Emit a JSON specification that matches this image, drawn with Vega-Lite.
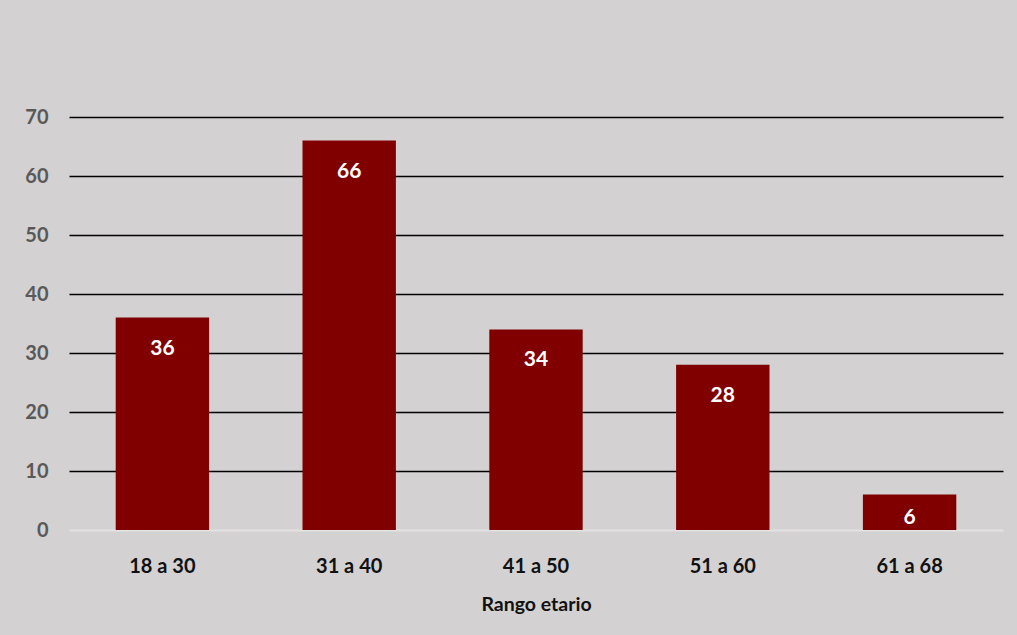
{
  "$schema": "https://vega.github.io/schema/vega-lite/v6.json",
  "width": 934,
  "height": 413,
  "autosize": {"type": "none"},
  "padding": {"left": 69, "top": 117, "right": 14, "bottom": 105},
  "background": "#d3d1d2",
  "data": {"values": [
    {"rango": "18 a 30", "n": 36},
    {"rango": "31 a 40", "n": 66},
    {"rango": "41 a 50", "n": 34},
    {"rango": "51 a 60", "n": 28},
    {"rango": "61 a 68", "n": 6}
  ]},
  "encoding": {
    "x": {"field": "rango", "type": "nominal", "sort": null,
      "scale": {"paddingInner": 0.5, "paddingOuter": 0.25},
      "axis": {"title": "Rango etario", "labelAngle": 0, "ticks": false, "domainColor": "#e4e3e4", "domainWidth": 2,
        "labelFont": "Lato", "labelFontSize": 20, "labelFontWeight": "bold", "labelColor": "#111111", "labelPadding": 26,
        "titleFont": "Lato", "titleFontSize": 19.5, "titleFontWeight": "bold", "titleColor": "#111111", "titlePadding": 19}},
    "y": {"field": "n", "type": "quantitative",
      "scale": {"domain": [0, 70]},
      "axis": {"title": null, "values": [0, 10, 20, 30, 40, 50, 60, 70], "domain": false, "ticks": false,
        "gridColor": {"condition": {"test": "datum.value === 0", "value": "transparent"}, "value": "#000000"}, "gridWidth": 1.5,
        "labelFont": "Lato", "labelFontSize": 20, "labelFontWeight": "bold", "labelColor": "#595959", "labelPadding": 21}}
  },
  "layer": [
    {"mark": {"type": "bar", "color": "#800000"}},
    {"transform": [{"filter": "datum.n >= 10"}],
     "mark": {"type": "text", "color": "white", "font": "Lato", "fontSize": 21, "fontWeight": "bold", "baseline": "middle", "dy": 31},
     "encoding": {"text": {"field": "n", "type": "quantitative"}}},
    {"transform": [{"filter": "datum.n < 10"}],
     "mark": {"type": "text", "color": "white", "font": "Lato", "fontSize": 21, "fontWeight": "bold", "baseline": "middle", "dy": 23},
     "encoding": {"text": {"field": "n", "type": "quantitative"}}}
  ],
  "config": {"view": {"stroke": null}}
}
